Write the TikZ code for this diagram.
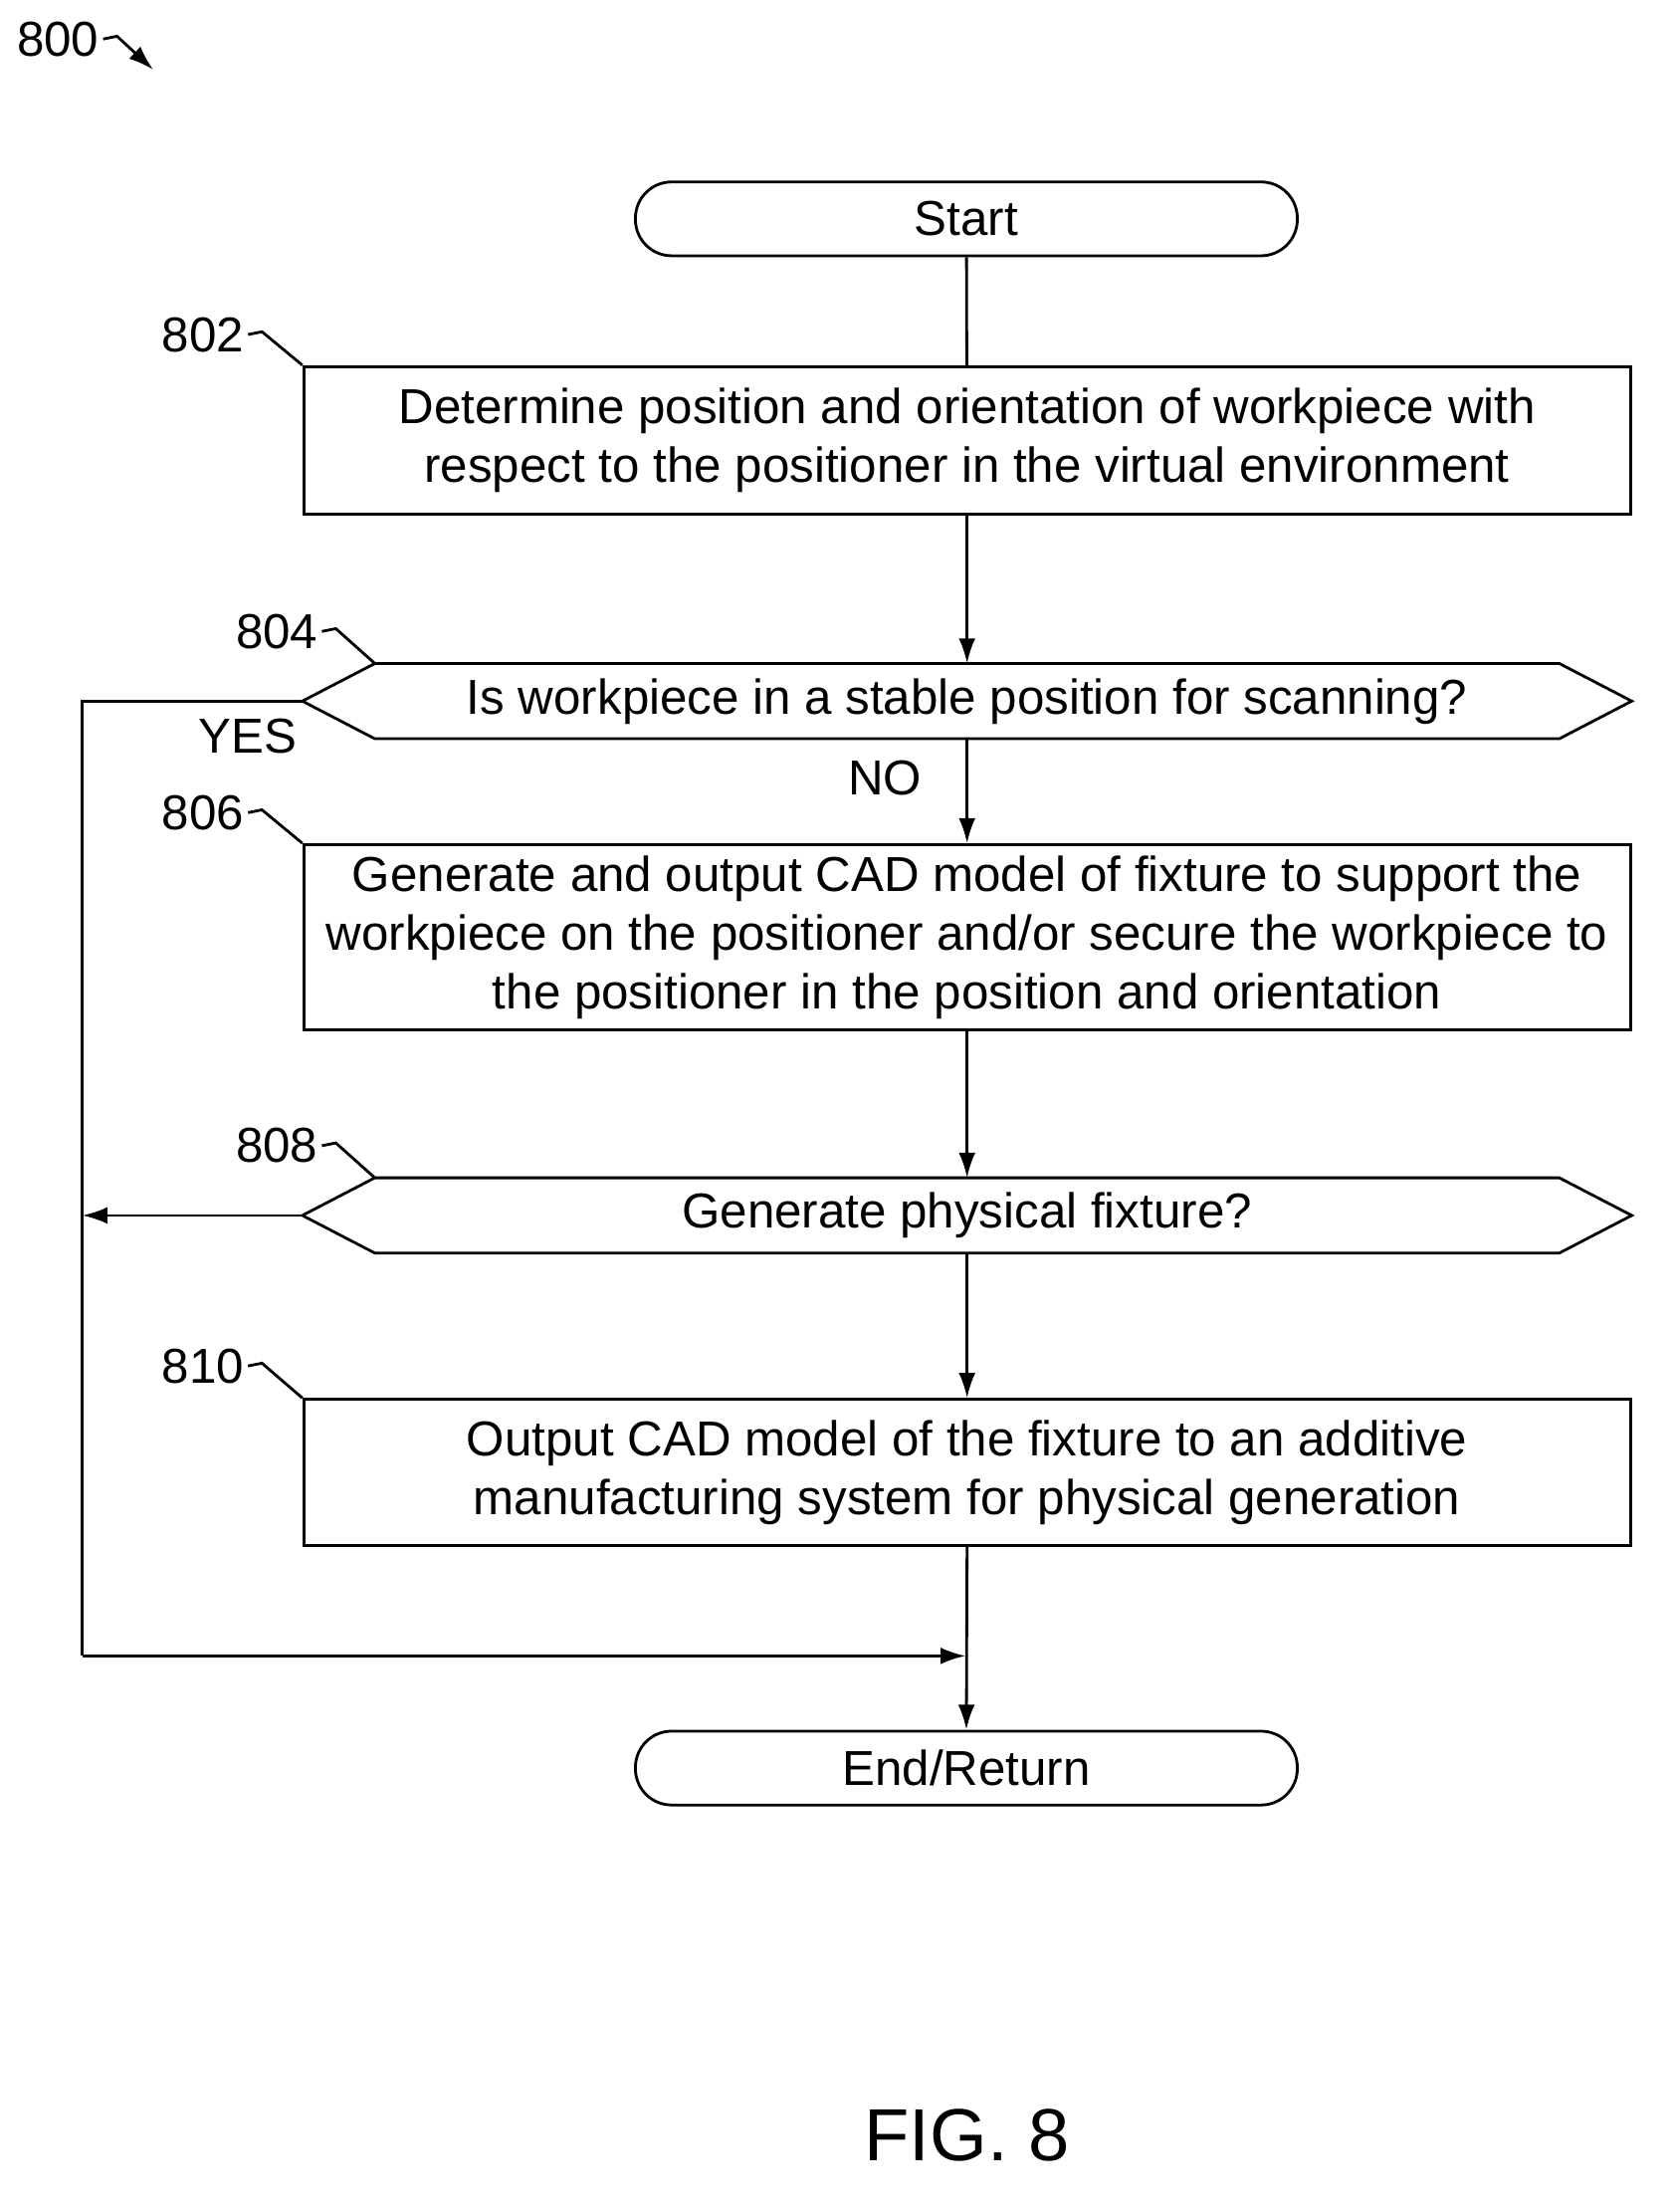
\documentclass[tikz,border=0pt]{standalone}
\usepackage{fontspec}
\setmainfont{Liberation Sans}
\usetikzlibrary{arrows.meta}
\begin{document}
\begin{tikzpicture}[x=0.5pt,y=-0.5pt,line width=1pt,
  box/.style={draw,minimum width=476pt,align=center,font=\fontsize{17.6}{21}\selectfont,inner sep=0},
  term/.style={draw,rounded corners=13pt,minimum width=237.5pt,minimum height=26.5pt,font=\fontsize{17.6}{20}\selectfont,inner sep=0},
  hexi/.style={minimum width=476pt,minimum height=26pt,font=\fontsize{17.6}{20}\selectfont,inner sep=0},
  lbl/.style={font=\fontsize{17.6}{20}\selectfont,inner xsep=1pt},
  arr/.style={-{Latex[length=9pt,width=6pt]}}]
\useasboundingbox (0,0) rectangle (1200,1587);
\node[term] (start) at (693.5,157) {Start};
\node[box,minimum height=53pt] (b802) at (694,316) {Determine position and orientation of workpiece with\\respect to the positioner in the virtual environment};
\node[hexi] (d804) at (694,503) {Is workpiece in a stable position for scanning?};
\node[box,minimum height=66.5pt] (b806) at (694,672.5) {Generate and output CAD model of fixture to support the\\workpiece on the positioner and/or secure the workpiece to\\the positioner in the position and orientation};
\node[hexi] (d808) at (694,872) {Generate physical fixture?};
\node[box,minimum height=52.5pt] (b810) at (694,1056.5) {Output CAD model of the fixture to an additive\\manufacturing system for physical generation};
\node[term] (end) at (693.5,1268.5) {End/Return};
\foreach \d in {d804,d808}{
  \draw (\d.west) -- ([xshift=26pt]\d.north west) -- ([xshift=-26pt]\d.north east) -- (\d.east) -- ([xshift=-26pt]\d.south east) -- ([xshift=26pt]\d.south west) -- cycle;}
\coordinate (ltop) at (59,503);
\coordinate (lmid) at (59,872);
\coordinate (lbot) at (59,1188);
\coordinate (join) at (693,1188);
\draw (start) -- (b802);
\draw[arr] (b802) -- (b802.south |- d804.north);
\draw[arr] (d804.south) -- (b806.north);
\draw[arr] (b806) -- (b806.south |- d808.north);
\draw[arr] (d808.south) -- (b810.north);
\draw[arr] (b810.south) -- (end.north);
\draw (d804.west) -- (ltop) -- (lbot);
\draw[arr] (lbot) -- (join);
\draw[arr] (d808.west) -- (lmid);
\node[lbl] (yes) at (178,528) {YES};
\node[lbl] (no) at (635,558) {NO};
\node[lbl,anchor=east] (l802) at (178,240) {802};
\node[lbl,anchor=east] (l804) at (231,453) {804};
\node[lbl,anchor=east] (l806) at (178,583) {806};
\node[lbl,anchor=east] (l808) at (231,822) {808};
\node[lbl,anchor=east] (l810) at (178,980) {810};
\draw (l802.east) -- ++(10,-2) -- (b802.north west);
\draw (l804.east) -- ++(10,-2) -- ([xshift=26pt]d804.north west);
\draw (l806.east) -- ++(10,-2) -- (b806.north west);
\draw (l808.east) -- ++(10,-2) -- ([xshift=26pt]d808.north west);
\draw (l810.east) -- ++(10,-2) -- (b810.north west);
\node[lbl,anchor=east] (l800) at (74,28) {800};
\coordinate (a800) at (110,50);
\draw[arr] (l800.east) -- ++(10,-2) -- (a800);
\node[font=\fontsize{26.5}{30}\selectfont] (fig) at (694,1532) {FIG. 8};
\end{tikzpicture}
\end{document}
